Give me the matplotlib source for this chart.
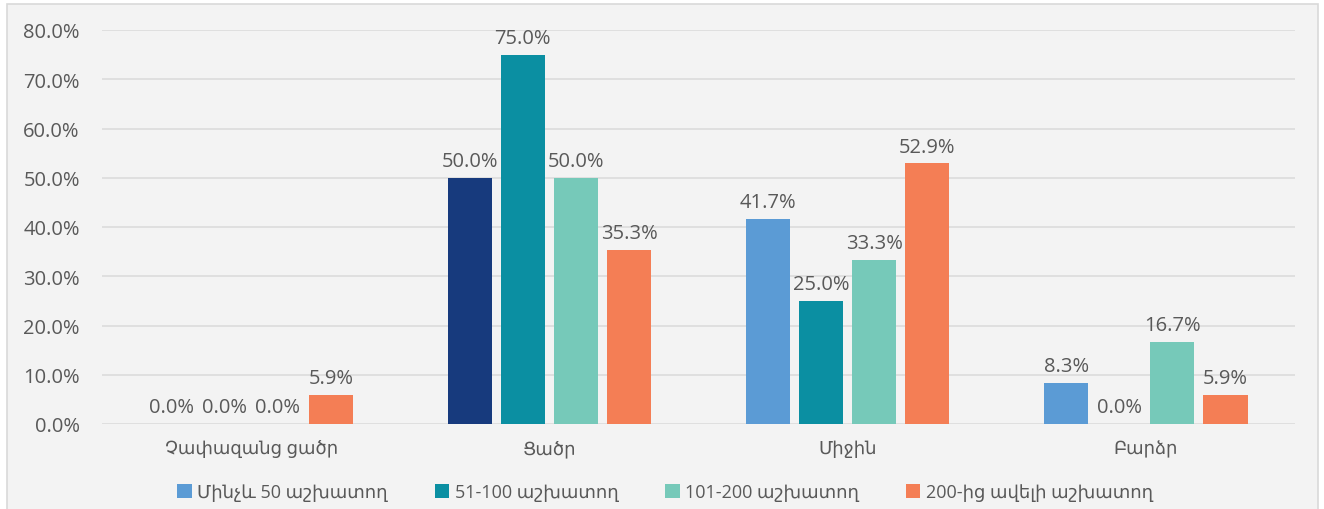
import matplotlib.pyplot as plt
import matplotlib.patches as patches
import numpy as np

plt.rcParams['font.family'] = ['Open Sans', 'DejaVu Sans']

categories = ['Չափազանց ցածր', 'Ցածր', 'Միջին', 'Բարձր']
series_names = ['Մինչև 50 աշխատող', '51-100 աշխատող', '101-200 աշխատող', '200-ից ավելի աշխատող']
upto_50 = [0.0, 50.0, 41.7, 8.3]
from_51_100 = [0.0, 75.0, 25.0, 0.0]
from_101_200 = [0.0, 50.0, 33.3, 16.7]
over_200 = [5.9, 35.3, 52.9, 5.9]

colors = ['#5B9BD5', '#0B8FA2', '#76C9B9', '#F47E55']
text_color = '#595959'

fig = plt.figure(figsize=(13.24, 5.10), dpi=100)
fig.patch.set_facecolor('white')
# chart area background with a thin border
fig.patches.append(patches.Rectangle((7 / 1324, -0.01), 1311 / 1324, 1 - 5 / 510 + 0.01,
                                     transform=fig.transFigure, facecolor='#F3F3F3',
                                     edgecolor='#D9D9D9', linewidth=1.2, zorder=-10))

ax = fig.add_axes([102 / 1324, 85 / 510, 1193 / 1324, 394 / 510])
ax.set_facecolor('none')

x = np.arange(len(categories))
pitch = 0.178
width = 0.148
all_series = [upto_50, from_51_100, from_101_200, over_200]
for i, (vals, name, col) in enumerate(zip(all_series, series_names, colors)):
    pos = x + (i - 1.5) * pitch
    bars = ax.bar(pos, vals, width, color=col, label=name, zorder=3)
    for b, v in zip(bars, vals):
        ax.annotate(f'{v:.1f}%', (b.get_x() + b.get_width() / 2, v),
                    xytext=(0, 5), textcoords='offset points', ha='center', va='bottom',
                    fontsize=14.5, color=text_color, annotation_clip=False)

# the first bar of the "Ցածր" group is highlighted in dark blue
ax.patches[1].set_facecolor('#173A7D')

ax.set_xlim(-0.5, 3.5)
ax.set_ylim(0, 80)
ax.set_yticks(np.arange(0, 81, 10))
ax.set_yticklabels([f'{t:.1f}%' for t in np.arange(0, 81, 10)])
ax.set_xticks(x)
ax.set_xticklabels(categories)
ax.tick_params(axis='both', length=0, labelcolor=text_color)
ax.tick_params(axis='y', pad=16, labelsize=14.5)
ax.tick_params(axis='x', pad=11, labelsize=13)
ax.grid(axis='y', color='#DCDCDC', linewidth=1.2, zorder=0)
for s in ax.spines.values():
    s.set_visible(False)

handles, labels = ax.get_legend_handles_labels()
fig.legend(handles, labels, loc='center', bbox_to_anchor=(665 / 1324, 1 - 493 / 510),
           ncol=4, frameon=False, fontsize=13, labelcolor=text_color,
           handlelength=0.8, handleheight=0.8, handletextpad=0.3, columnspacing=2.6)

fig.savefig('out.png', dpi=100, facecolor=fig.get_facecolor())
